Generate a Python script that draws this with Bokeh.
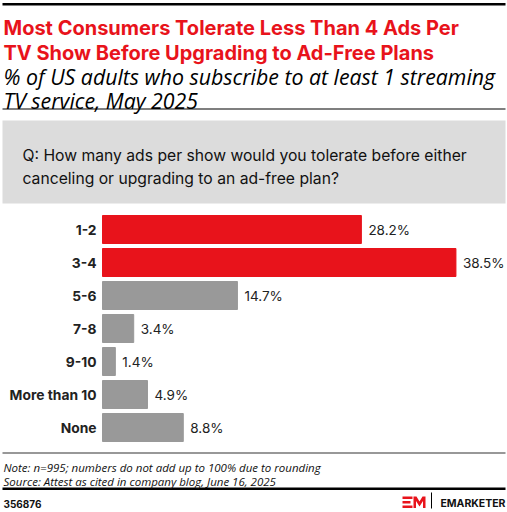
from bokeh.plotting import figure
from bokeh.models import Range1d, ColumnDataSource, Label, BoxAnnotation, PolyAnnotation
from bokeh.core.properties import value
from bokeh.embed import file_html
from bokeh.resources import INLINE

categories = ["1-2", "3-4", "5-6", "7-8", "9-10", "More than 10", "None"]
values = [28.2, 38.5, 14.7, 3.4, 1.4, 4.9, 8.8]
highlight = [True, True, False, False, False, False, False]

RED = "#E8131B"
GRAY = "#999999"
W, H = 507, 512

# layout geometry (pixels)
X0 = 102.0       # pixel of 0%
XS = 9.18        # pixels per percent
Y0 = 229.0       # pixel of first bar centre
YS = 33.0        # pixels per bar step

def px(x):  # pixel x -> data x
    return (x - X0) / XS

def py(y):  # pixel y (from top) -> data y
    return (y - Y0) / YS

p = figure(width=W, height=H, output_backend="svg", toolbar_location=None,
           x_range=Range1d(px(0), px(W)), y_range=Range1d(py(H), py(0)),
           x_axis_type=None, y_axis_type=None, min_border=0,
           background_fill_color="white", border_fill_color="white")
p.outline_line_color = None
p.grid.visible = False

idx = list(range(len(categories)))
src = ColumnDataSource(dict(
    y=idx, v=values, cat=categories,
    lab=[f"{v:.1f}%" for v in values],
    color=[RED if h else GRAY for h in highlight],
))

def box(x1, x2, y1, y2, color, level="underlay"):
    p.add_layout(BoxAnnotation(left=px(x1), right=px(x2), top=py(y1), bottom=py(y2),
                               fill_color=color, fill_alpha=1, line_color=None,
                               level=level))

# decorations
box(2, 505, 2.5, 5, "#000000")
box(2, 505, 108, 109, "#000000")
box(2, 505, 120, 203, "#DCDCDC")
box(2, 505, 452, 453, "#333333")
box(2, 505, 487, 489.5, "#000000")

# bars
p.hbar(y="y", right="v", left=0, height=28 / YS, color="color", source=src)
p.text(x=0, y="y", text="cat", x_offset=-6, text_align="right", text_baseline="middle",
       text_font=value("Inter"), text_font_style="bold", text_font_size="13.8px",
       text_color="#222222", source=src)
p.text(x="v", y="y", text="lab", x_offset=7, text_align="left", text_baseline="middle",
       text_font=value("Inter"), text_font_size="13.5px", text_color="#222222", source=src)

def label(text, xpix, ypix, size, color="#000000", style="normal", font="Inter", align="left"):
    p.add_layout(Label(x=px(xpix), y=py(ypix), text=text, text_font=font,
                       text_font_size=f"{size}px", text_color=color,
                       text_font_style=style, text_baseline="alphabetic",
                       text_align=align))

label("Most Consumers Tolerate Less Than 4 Ads Per", 3, 27, 20, RED, "bold")
label("TV Show Before Upgrading to Ad-Free Plans", 3, 52, 20, RED, "bold")
label("% of US adults who subscribe to at least 1 streaming", 3, 76, 21.3, "#000000", "italic", "Open Sans")
label("TV service, May 2025", 3, 100, 21.3, "#000000", "italic", "Open Sans")
label("Q: How many ads per show would you tolerate before either", 22, 155, 15.7, "#111111", "normal")
label("canceling or upgrading to an ad-free plan?", 22, 178, 15.7, "#111111", "normal")
label("Note: n=995; numbers do not add up to 100% due to rounding", 3, 467, 11.5, "#111111", "italic", "Open Sans")
label("Source: Attest as cited in company blog, June 16, 2025", 3, 481, 11.5, "#111111", "italic", "Open Sans")
label("356876", 3, 503, 10, "#111111", "bold")

# EMARKETER logo mark (drawn)
box(402, 412, 496, 498.5, RED, level="overlay")
box(402, 410, 500.5, 503, RED, level="overlay")
box(402, 412, 505, 507.5, RED, level="overlay")
mx = [413, 413, 416, 419, 422, 425, 425, 422.5, 422.5, 419, 415.5, 415.5]
my = [507.5, 496, 496, 501, 496, 496, 507.5, 507.5, 500.5, 506, 500.5, 507.5]
p.add_layout(PolyAnnotation(xs=[px(v) for v in mx], ys=[py(v) for v in my],
                            fill_color=RED, fill_alpha=1, line_color=None, level="overlay"))
box(430.5, 431.5, 492, 508, "#000000", level="overlay")
label("EMARKETER", 505, 503, 10.5, "#111111", "bold", align="right")

open("out.html", "w").write(file_html(p, INLINE))
